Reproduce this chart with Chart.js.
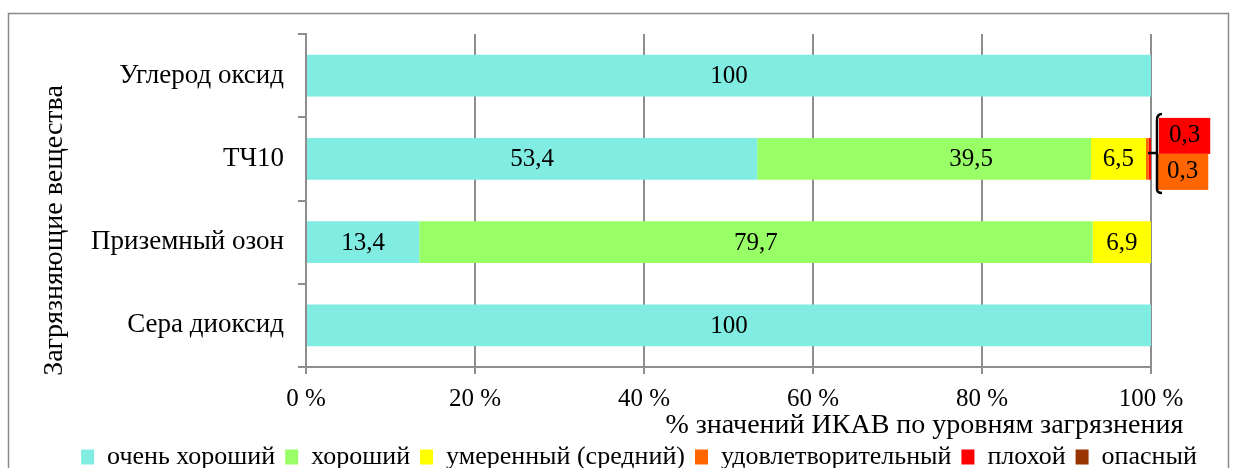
<!DOCTYPE html>
<html lang="ru">
<head>
<meta charset="utf-8">
<title>ИКАВ по загрязняющим веществам</title>
<script src="https://cdn.jsdelivr.net/npm/chart.js@4/dist/chart.umd.min.js"></script>
<style>
  html, body { margin: 0; padding: 0; background: #ffffff; overflow: hidden; }
  #wrap { width: 1234px; height: 468px; overflow: hidden; }
  canvas { display: block; }
</style>
</head>
<body>
<div id="wrap"><canvas id="chart" width="1234" height="480"></canvas></div>
<script>
// Pollutants (categories on the vertical axis)
const categories = ['Углерод оксид', 'ТЧ10', 'Приземный озон', 'Сера диоксид'];

// Share of AQI values per pollution level, %
const veryGood     = [100, 53.4, 13.4, 100];
const good         = [0, 39.5, 79.7, 0];
const moderate     = [0, 6.5, 6.9, 0];
const satisfactory = [0, 0.3, 0, 0];
const poor         = [0, 0.3, 0, 0];
const hazardous    = [0, 0, 0, 0];

// Level names for the legend
const levelNames = ['очень хороший', 'хороший', 'умеренный (средний)', 'удовлетворительный', 'плохой', 'опасный'];

// Percentage axis ticks
const xTicks = [0, 20, 40, 60, 80, 100];

const xTitle = '% значений ИКАВ по уровням загрязнения';
const yTitle = 'Загрязняющие вещества';

const levelColors = ['#80ece2', '#99ff66', '#ffff00', '#ff6600', '#ff0000', '#993300'];
const FONT = "'Liberation Serif', 'Times New Roman', serif";
const GRID = '#8e8e8e';
const NUM_SIZE = 25;    // numbers: ticks and value labels
const TEXT_SIZE = 27;   // category names
const LEGEND_SIZE = 26; // legend entries
const TITLE_SIZE = 28;  // axis titles

Chart.defaults.font.family = FONT;
Chart.defaults.font.size = NUM_SIZE;
Chart.defaults.color = '#000000';

const seriesValues = [veryGood, good, moderate, satisfactory, poor, hazardous];

const fmt = v => String(v).replace('.', ',');

// Outer frame around the whole chart
const framePlugin = {
  id: 'frame',
  beforeDraw(chart) {
    const ctx = chart.ctx;
    ctx.save();
    ctx.strokeStyle = '#8a8a8a';
    ctx.lineWidth = 1.5;
    ctx.strokeRect(8.5, 13.5, 1220, 520);
    ctx.restore();
  }
};

// Let the legend row span the frame width instead of the plot width
const legendSpanPlugin = {
  id: 'legendSpan',
  afterLayout(chart) {
    const lg = chart.legend;
    if (!lg) return;
    lg.left = 44;
    lg.right = chart.width;
    lg.width = lg.right - lg.left;
  }
};

// Axis titles
const axisTitlePlugin = {
  id: 'axisTitles',
  afterDraw(chart) {
    const ctx = chart.ctx;
    const area = chart.chartArea;
    ctx.save();
    ctx.fillStyle = '#000';
    ctx.textBaseline = 'middle';
    // horizontal axis title, right edge aligned with the last tick label
    ctx.font = NUM_SIZE + 'px ' + FONT;
    const lastW = ctx.measureText(xTicks[xTicks.length - 1] + ' %').width;
    ctx.font = TITLE_SIZE + 'px ' + FONT;
    ctx.textAlign = 'right';
    ctx.fillText(xTitle, area.right + lastW / 2, 426);
    // vertical axis title
    ctx.translate(55, (area.top + area.bottom) / 2 + 30);
    ctx.rotate(-Math.PI / 2);
    ctx.textAlign = 'center';
    ctx.fillText(yTitle, 0, 0);
    ctx.restore();
  }
};

// Value labels: inside the segment, or bracketed to the right for tiny shares
const valueLabelPlugin = {
  id: 'valueLabels',
  afterDatasetsDraw(chart, args, opts) {
    const ctx = chart.ctx;
    const area = chart.chartArea;
    const shifts = opts.shifts || {};
    const tiny = {};
    ctx.save();
    ctx.font = NUM_SIZE + 'px ' + FONT;
    ctx.textAlign = 'center';
    ctx.textBaseline = 'middle';
    ctx.fillStyle = '#000';
    chart.data.datasets.forEach((ds, d) => {
      const meta = chart.getDatasetMeta(d);
      ds.data.forEach((v, i) => {
        if (!v) return;
        const bar = meta.data[i];
        if (v >= 1) {
          const dx = (shifts[d] && shifts[d][i]) || 0;
          ctx.fillText(fmt(v), (bar.x + bar.base) / 2 + dx, bar.y + 1);
        } else {
          (tiny[i] = tiny[i] || []).push({ v, d, bar });
        }
      });
    });
    Object.keys(tiny).forEach(i => {
      const items = tiny[i].slice().reverse(); // later level on top
      const bar = items[0].bar;
      const boxH = 36;
      const total = boxH * items.length;
      const cy = bar.y - 7;
      const top = cy - total / 2;
      const bx = area.right + 6;
      items.forEach((it, k) => {
        const w = ctx.measureText(fmt(it.v)).width + 20;
        const y0 = top + k * boxH;
        ctx.fillStyle = levelColors[it.d];
        ctx.fillRect(bx + 2 - (k ? 2 : 0), y0 + 2, w, boxH);
        ctx.fillStyle = '#000';
        ctx.fillText(fmt(it.v), bx + 2 + w / 2 - (k ? 2 : 0), y0 + boxH / 2 + 2);
      });
      // curly bracket joining the bar end with its labels
      ctx.strokeStyle = '#000';
      ctx.lineWidth = 2.5;
      ctx.beginPath();
      ctx.moveTo(bx + 5, top - 2);
      ctx.quadraticCurveTo(bx, top - 2, bx, top + 4);
      ctx.lineTo(bx, top + total + 1);
      ctx.quadraticCurveTo(bx, top + total + 5, bx + 5, top + total + 5);
      ctx.moveTo(area.right - 3, cy + 1);
      ctx.lineTo(bx, cy + 1);
      ctx.stroke();
    });
    ctx.restore();
  }
};

const chart = new Chart(document.getElementById('chart'), {
  type: 'bar',
  data: {
    labels: categories,
    datasets: seriesValues.map((vals, k) => ({
      label: levelNames[k],
      data: vals,
      backgroundColor: levelColors[k],
      borderWidth: 0,
      categoryPercentage: 1,
      barPercentage: 0.5
    }))
  },
  options: {
    indexAxis: 'y',
    responsive: false,
    animation: false,
    devicePixelRatio: 1,
    layout: { padding: { top: 34, right: 83, left: 0, bottom: 0 } },
    plugins: {
      tooltip: { enabled: false },
      legend: {
        position: 'bottom',
        labels: {
          boxWidth: 13,
          boxHeight: 15,
          padding: 10,
          font: { size: LEGEND_SIZE, family: FONT },
          color: '#000'
        }
      },
      valueLabels: { shifts: { 1: { 1: 47 } } }
    },
    scales: {
      x: {
        stacked: true,
        min: 0,
        max: 100,
        afterBuildTicks(scale) { scale.ticks = xTicks.map(v => ({ value: v })); },
        afterFit(scale) { scale.height = 67; },
        ticks: {
          padding: 10,
          font: { size: NUM_SIZE, family: FONT },
          color: '#000',
          callback: v => v + ' %'
        },
        grid: { color: GRID, lineWidth: 2, tickLength: 7, drawTicks: true },
        border: { color: GRID, width: 2 }
      },
      y: {
        stacked: true,
        afterFit(scale) { scale.width = 306; },
        ticks: { padding: 14, font: { size: TEXT_SIZE, family: FONT }, color: '#000' },
        grid: { drawOnChartArea: false, drawTicks: true, tickLength: 8, color: GRID, lineWidth: 2, offset: true },
        border: { color: GRID, width: 2 }
      }
    }
  },
  plugins: [framePlugin, legendSpanPlugin, axisTitlePlugin, valueLabelPlugin]
});
</script>
</body>
</html>
